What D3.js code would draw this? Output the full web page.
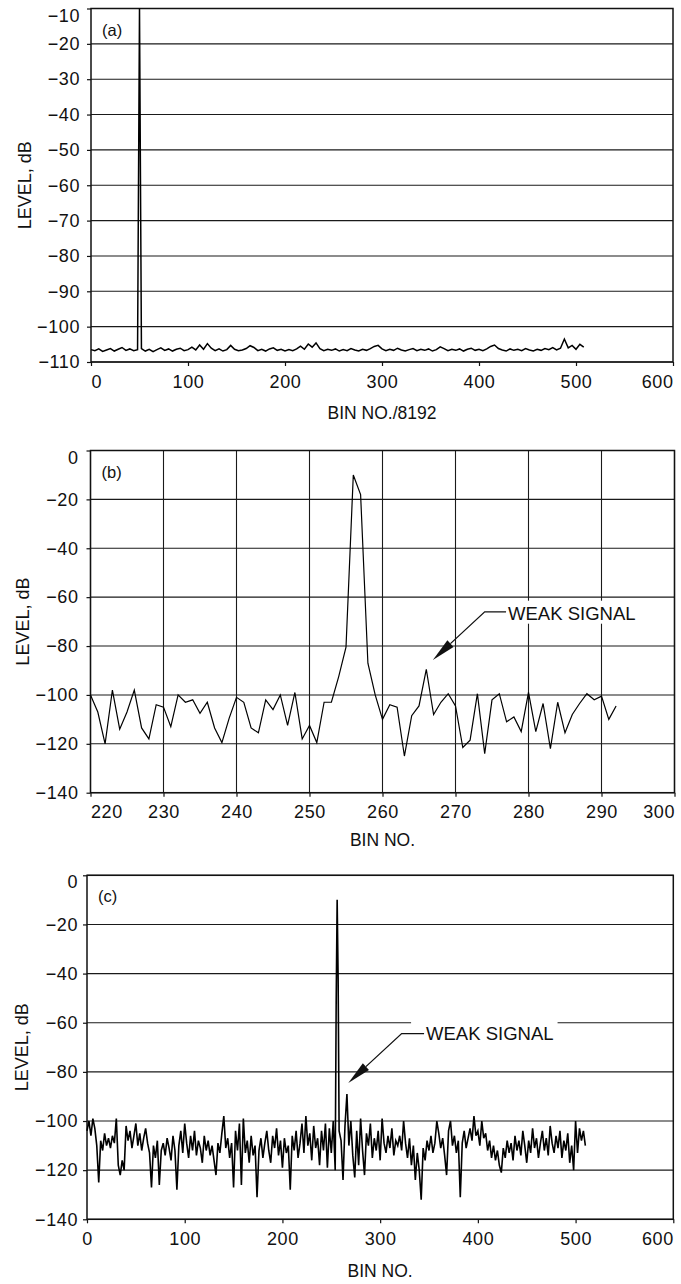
<!DOCTYPE html>
<html>
<head>
<meta charset="utf-8">
<script src="https://cdn.jsdelivr.net/npm/d3@7"></script>
<style>
  body { margin: 0; background: #fff; }
  svg text { font-family: "Liberation Sans", Arial, Helvetica, sans-serif; fill: #111; }
</style>
</head>
<body>
<svg id="chart" width="681" height="1284"></svg>
<script>
// ---- panel (a): whole spectrum, bins of an 8192 point FFT ----
const aNoiseStep = 4
const aNoise = [
  -106.5, -106.8, -106.3, -107.0, -106.6, -106.2, -106.9, -106.4, -105.9, -106.7, -106.3, -106.8, -106.5, -106.2, -106.9, -106.4,
  -107.1, -106.5, -106.0, -106.7, -106.3, -106.9, -106.4, -106.1, -106.8, -106.5, -105.8, -106.6, -105.2, -106.4, -104.8, -106.1,
  -106.8, -106.3, -106.9, -106.5, -105.3, -106.4, -106.8, -106.6, -106.2, -105.4, -105.9, -106.8, -106.4, -106.9, -106.3, -106.0,
  -106.7, -106.4, -106.9, -106.5, -106.8, -106.3, -105.5, -106.4, -104.9, -105.8, -104.6, -106.2, -106.8, -106.4, -106.7, -106.3,
  -106.9, -106.5, -106.8, -106.2, -106.6, -106.9, -106.4, -106.7, -106.2, -105.6, -105.3, -106.3, -106.8, -106.4, -106.7, -106.1,
  -106.6, -106.9, -106.5, -106.2, -106.8, -106.4, -106.7, -106.3, -106.9, -106.5, -105.7, -106.2, -106.8, -106.4, -106.7, -106.3,
  -106.9, -106.4, -106.1, -106.7, -106.4, -106.8, -106.3, -105.6, -105.2, -106.2, -106.6, -106.9, -106.3, -106.7, -106.4, -106.8,
  -106.2, -106.6, -106.9, -106.4, -106.7, -106.2, -106.5, -105.9, -106.6, -106.1, -103.5, -106.0, -105.3, -106.4, -105.0, -105.8
]
const aPeakBins = [50]
const aPeakLevels = [-10]
const aXTicks = [0, 100, 200, 300, 400, 500, 600]
const aYTicks = [-10, -20, -30, -40, -50, -60, -70, -80, -90, -100, -110]

// ---- panel (b): zoom on bins 220..292 ----
const bBins = [
  220, 221, 222, 223, 224, 225, 226, 227, 228, 229, 230, 231, 232, 233, 234, 235, 236, 237, 238, 239,
  240, 241, 242, 243, 244, 245, 246, 247, 248, 249, 250, 251, 252, 253, 254, 255, 256, 257, 258, 259,
  260, 261, 262, 263, 264, 265, 266, 267, 268, 269, 270, 271, 272, 273, 274, 275, 276, 277, 278, 279,
  280, 281, 282, 283, 284, 285, 286, 287, 288, 289, 290, 291, 292
]
const bLevels = [
  -100, -107, -120, -98, -114, -107, -98, -113.5, -118, -104, -105, -113, -100, -103, -102, -107.5, -103, -113.5, -119.5, -109.5,
  -101, -103, -113.5, -115.5, -102, -106, -100, -112.5, -99, -118, -112.5, -119.5, -103, -103, -92.5, -80.5, -10, -18, -87, -100,
  -110, -104, -105, -125, -108.5, -104.5, -89.5, -108, -103, -99.5, -104.5, -121.5, -118.5, -99.5, -124, -102, -99.5, -111, -109, -115,
  -99, -115, -103.5, -122, -103, -115.5, -108, -103.5, -99.5, -102, -100.5, -110, -104.5
]
const bXTicks = [220, 230, 240, 250, 260, 270, 280, 290, 300]
const bYTicks = [0, -20, -40, -60, -80, -100, -120, -140]

const cNoiseStep = 2
const cNoise = [
  -104, -100, -106, -99, -103, -110, -125, -108, -112, -105, -110, -107, -111, -106, -109, -99,
  -118, -122, -116, -120, -102, -108, -104, -111, -106, -101, -110, -105, -112, -107, -103, -109,
  -113, -127, -110, -115, -108, -126, -112, -109, -114, -107, -111, -116, -106, -112, -128, -110,
  -104, -113, -101, -109, -115, -106, -112, -104, -114, -108, -111, -117, -106, -112, -108, -114,
  -110, -116, -122, -109, -113, -105, -98, -111, -107, -115, -109, -127, -104, -112, -101, -126,
  -99, -113, -108, -117, -106, -114, -110, -131, -112, -107, -115, -109, -104, -112, -117, -106,
  -111, -103, -114, -108, -119, -107, -113, -110, -128, -106, -112, -104, -115, -109, -101, -113,
  -98, -110, -105, -116, -102, -111, -107, -118, -104, -112, -101, -119, -103, -113, -100, -120,
  null, -104, -108, -124, -102, -89, -110, -100, -114, -123, -104, -118, -99, -112, -122, -105,
  -110, -101, -115, -107, -112, -104, -116, -99, -109, -113, -106, -111, -103, -114, -108, -110,
  -106, -112, -100, -109, -115, -107, -118, -110, -124, -113, -120, -132, -111, -116, -108, -112,
  -106, -113, -109, -100, -105, -111, -107, -114, -122, -104, -100, -110, -106, -113, -108, -131,
  -109, -104, -111, -107, -103, -108, -98, -106, -104, -110, -100, -107, -105, -112, -108, -115,
  -110, -116, -112, -118, -121, -111, -115, -108, -113, -109, -116, -106, -112, -108, -114, -104,
  -110, -117, -108, -113, -103, -111, -107, -115, -109, -104, -112, -107, -114, -102, -109, -113,
  -106, -111, -104, -115, -108, -112, -105, -117, -110, -120, -100, -113, -103, -108, -104, -110
]
const cPeakBins = [255, 256, 257]
const cPeakLevels = [-52, -10, -42]
const cXTicks = [0, 100, 200, 300, 400, 500, 600]
const cYTicks = [0, -20, -40, -60, -80, -100, -120, -140]

// annotation anchors, in data units (bin, dB)
const bWeakTip = [266.9, -85.7]
const bWeakElbow = [274, -66]
const bWeakText = [277.2, -66.5]
const cWeakTip = [267.4, -84.5]
const cWeakElbow = [322, -64.4]
const cWeakText = [347, -64.2]

const svg = d3.select('#chart')
const fmt = d => d < 0 ? '\u2212' + Math.abs(d) : String(d)

function series(start, step, values, peakBins, peakLevels) {
  let pts = values.map((v, i) => ({ bin: start + i * step, level: v })).filter(p => p.level !== null)
  pts = pts.filter(p => !peakBins.includes(p.bin))
  peakBins.forEach((b, i) => pts.push({ bin: b, level: peakLevels[i] }))
  return pts.sort((a, b) => a.bin - b.bin)
}

function drawPanel(o) {
  const g = svg.append('g').attr('class', 'panel')
  const x = d3.scaleLinear().domain(o.xDomain).range([o.left, o.right])
  const y = d3.scaleLinear().domain(o.yDomain).range([o.bottom, o.top])

  // horizontal grid
  g.append('g').selectAll('line')
    .data(o.yTicks)
    .join('line')
    .attr('x1', o.left).attr('x2', o.right)
    .attr('y1', d => y(d)).attr('y2', d => y(d))
    .attr('stroke', '#1a1a1a').attr('stroke-width', 1.1)

  // vertical grid (only the zoomed panel has it)
  if (o.vGrid) {
    g.append('g').selectAll('line')
      .data(o.xTicks)
      .join('line')
      .attr('x1', d => x(d)).attr('x2', d => x(d))
      .attr('y1', o.top).attr('y2', o.bottom)
      .attr('stroke', '#1a1a1a').attr('stroke-width', 1.1)
  }

  // frame
  g.append('rect')
    .attr('x', o.left).attr('y', o.top)
    .attr('width', o.right - o.left).attr('height', o.bottom - o.top)
    .attr('fill', 'none').attr('stroke', '#111').attr('stroke-width', 1.5)

  // axes
  const ya = g.append('g')
    .attr('transform', `translate(${o.left},0)`)
    .call(d3.axisLeft(y).tickValues(o.yTicks).tickFormat(fmt).tickSize(4).tickPadding(o.yPad).tickSizeOuter(0))
  const xa = g.append('g')
    .attr('transform', `translate(0,${o.bottom})`)
    .call(d3.axisBottom(x).tickValues(o.xTicks).tickFormat(fmt).tickSize(4).tickPadding(9).tickSizeOuter(0))
  g.selectAll('.domain').remove()
  g.selectAll('.tick line').attr('stroke', '#111').attr('stroke-width', 1.2)
  g.selectAll('.tick text')
    .attr('fill', '#111')
    .style('font-size', '18px')
    .style('letter-spacing', '0.6px')
    .style('font-family', '"Liberation Sans", Arial, sans-serif')
  // top label sits a little below its gridline, as in the print
  ya.selectAll('.tick text')
    .attr('dy', d => d === o.yDomain[1] ? '0.7em' : '0.32em')
  xa.selectAll('.tick text')
    .attr('text-anchor', (d, i, n) => i === 0 ? o.firstAnchor : (i === n.length - 1 ? 'end' : 'middle'))

  // axis titles
  g.append('text')
    .attr('transform', `translate(${o.yTitleX},${(o.top + o.bottom) / 2}) rotate(-90)`)
    .attr('text-anchor', 'middle')
    .attr('dy', '0.35em')
    .style('font-size', '18px')
    .text('LEVEL, dB')
  g.append('text')
    .attr('x', (o.left + o.right) / 2)
    .attr('y', o.bottom + o.xTitleDy)
    .attr('text-anchor', 'middle')
    .style('font-size', '17.5px')
    .text(o.xTitle)

  // panel tag
  g.append('text')
    .attr('x', o.left + 11)
    .attr('y', o.top + 27)
    .style('font-size', '16.5px')
    .text(o.tag)

  // spectrum trace
  const line = d3.line().x(d => x(d.bin)).y(d => y(d.level))
  g.append('path')
    .datum(o.data)
    .attr('d', line)
    .attr('fill', 'none')
    .attr('stroke', '#000')
    .attr('stroke-width', o.lineWidth)
    .attr('stroke-linejoin', 'miter')

  if (o.note) annotate(g, x, y, o.note)
}

function annotate(g, x, y, a) {
  const tip = [x(a.tip[0]), y(a.tip[1])]
  const elbow = [x(a.elbow[0]), y(a.elbow[1])]
  const label = g.append('text')
    .attr('x', x(a.text[0]))
    .attr('y', y(a.text[1]))
    .attr('dy', '0.36em')
    .style('font-size', '18.5px')
    .text(a.label)
  const bb = label.node().getBBox()
  g.insert('rect', () => label.node())
    .attr('x', bb.x - a.padLeft).attr('y', bb.y - 2)
    .attr('width', bb.width + a.padLeft + 4).attr('height', bb.height + 2)
    .attr('fill', '#fff')

  // arrowhead geometry
  const ang = Math.atan2(tip[1] - elbow[1], tip[0] - elbow[0])
  const len = 24, half = 4.5
  const base = [tip[0] - len * Math.cos(ang), tip[1] - len * Math.sin(ang)]
  const nx = -Math.sin(ang), ny = Math.cos(ang)

  g.append('path')
    .attr('d', d3.line()([[bb.x - 2, elbow[1]], elbow, base]))
    .attr('fill', 'none').attr('stroke', '#111').attr('stroke-width', 1.3)
  g.append('path')
    .attr('d', d3.line()([tip, [base[0] + nx * half, base[1] + ny * half], [base[0] - nx * half, base[1] - ny * half]]) + 'Z')
    .attr('fill', '#111')
}

drawPanel({
  tag: '(a)', xTitle: 'BIN NO./8192',
  left: 91, right: 673, top: 8.5, bottom: 362,
  xDomain: [0, 600], yDomain: [-110, -10],
  xTicks: aXTicks, yTicks: aYTicks,
  yPad: 7, yTitleX: 25, xTitleDy: 57, firstAnchor: 'start',
  vGrid: false, lineWidth: 1.5,
  data: series(0, aNoiseStep, aNoise, aPeakBins, aPeakLevels)
})

drawPanel({
  tag: '(b)', xTitle: 'BIN NO.',
  left: 90.5, right: 674.5, top: 450.5, bottom: 792.7,
  xDomain: [220, 300], yDomain: [-140, 0],
  xTicks: bXTicks, yTicks: bYTicks,
  yPad: 8, yTitleX: 23, xTitleDy: 53, firstAnchor: 'start',
  vGrid: true, lineWidth: 1.2,
  data: bBins.map((b, i) => ({ bin: b, level: bLevels[i] })),
  note: { label: 'WEAK SIGNAL', tip: bWeakTip, elbow: bWeakElbow, text: bWeakText, padLeft: 2 }
})

drawPanel({
  tag: '(c)', xTitle: 'BIN NO.',
  left: 87, right: 673.3, top: 875.3, bottom: 1219.3,
  xDomain: [0, 600], yDomain: [-140, 0],
  xTicks: cXTicks, yTicks: cYTicks,
  yPad: 5, yTitleX: 22, xTitleDy: 58, firstAnchor: 'middle',
  vGrid: false, lineWidth: 1.6,
  data: series(0, cNoiseStep, cNoise, cPeakBins, cPeakLevels),
  note: { label: 'WEAK SIGNAL', tip: cWeakTip, elbow: cWeakElbow, text: cWeakText, padLeft: 15 }
})
</script>
</body>
</html>
